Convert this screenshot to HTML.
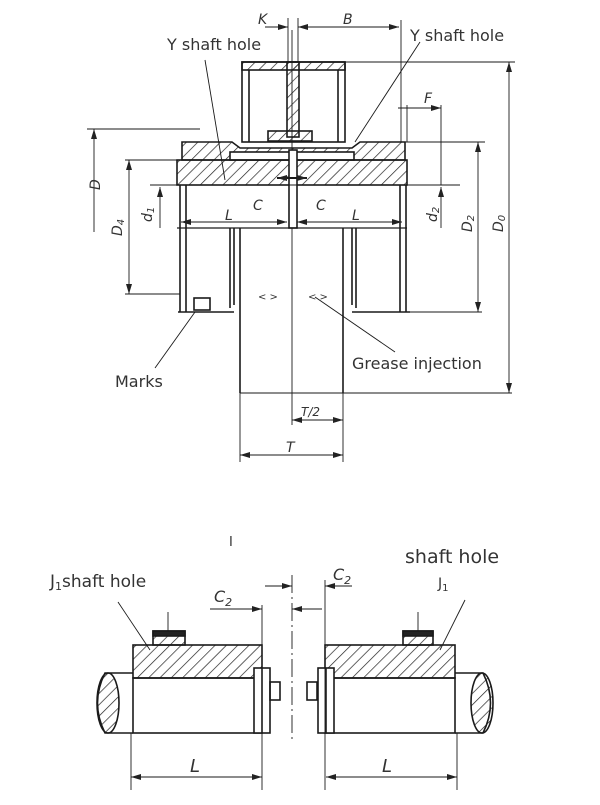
<!DOCTYPE html>
<html><head><meta charset="utf-8"><style>
html,body{margin:0;padding:0;background:#fff;}
svg{display:block;}
text{font-family:"DejaVu Sans","Liberation Sans",sans-serif;fill:#333;}
.it{font-family:"Liberation Serif",serif;font-style:italic;fill:#222;}
</style></head><body>
<svg width="600" height="805" viewBox="0 0 600 805" xmlns="http://www.w3.org/2000/svg">
<defs>
<pattern id="h" patternUnits="userSpaceOnUse" width="8" height="8" patternTransform="rotate(45)">
<line x1="0" y1="0" x2="0" y2="8" stroke="#222" stroke-width="1.4"/></pattern>
<marker id="a" markerWidth="10" markerHeight="6" refX="10" refY="3" orient="auto-start-reverse" markerUnits="userSpaceOnUse"><path d="M0,0 L10,3 L0,6z" fill="#222"/></marker>
</defs>
<g stroke="#1a1a1a" stroke-width="1.6" fill="none">
<line x1="292" y1="30" x2="292" y2="400" stroke-width="0.9"/>
<rect x="242" y="62" width="103" height="80"/>
<rect x="242" y="62" width="103" height="8" fill="url(#h)"/>
<line x1="249" y1="70" x2="249" y2="142"/><line x1="338" y1="70" x2="338" y2="142"/>
<rect x="287" y="62" width="12" height="75" fill="url(#h)"/>
<rect x="268" y="131" width="44" height="10" fill="url(#h)"/>
<path d="M182,142 L232,142 L240,148 L352,148 L360,142 L405,142 L405,160 L182,160Z" fill="url(#h)"/>
<rect x="230" y="152" width="124" height="8" fill="#fff"/>
<rect x="177" y="160" width="230" height="25" fill="url(#h)"/>
<rect x="289" y="150" width="8" height="78" fill="#fff"/>
<line x1="277" y1="178" x2="307" y2="178" marker-start="url(#a)" marker-end="url(#a)" stroke-width="2"/>
<line x1="150" y1="185" x2="460" y2="185" stroke-width="0.9"/>
<line x1="177" y1="228" x2="407" y2="228" stroke-width="1.2"/>
<line x1="180" y1="185" x2="180" y2="312"/><line x1="186" y1="185" x2="186" y2="312"/>
<line x1="230" y1="228" x2="230" y2="308"/><line x1="234" y1="228" x2="234" y2="305"/>
<line x1="352" y1="228" x2="352" y2="305"/><line x1="356" y1="228" x2="356" y2="308"/>
<line x1="400" y1="185" x2="400" y2="312"/><line x1="406" y1="185" x2="406" y2="312"/>
<line x1="178" y1="312" x2="234" y2="312"/><line x1="352" y1="312" x2="410" y2="312"/>
<rect x="194" y="298" width="16" height="12"/>
<line x1="240" y1="228" x2="240" y2="393"/><line x1="343" y1="228" x2="343" y2="393"/>
<line x1="240" y1="393" x2="512" y2="393" stroke-width="1"/>
<g stroke-width="0.9">
<line x1="87" y1="129" x2="200" y2="129"/>
<line x1="94" y1="129" x2="94" y2="232" marker-start="url(#a)"/>
<line x1="125" y1="160" x2="180" y2="160"/>
<line x1="125" y1="294" x2="180" y2="294"/>
<line x1="129" y1="160" x2="129" y2="294" marker-start="url(#a)" marker-end="url(#a)"/>
<line x1="160" y1="187" x2="160" y2="228" marker-start="url(#a)"/>
<line x1="181" y1="222" x2="287" y2="222" marker-start="url(#a)" marker-end="url(#a)"/>
<line x1="297" y1="222" x2="402" y2="222" marker-start="url(#a)" marker-end="url(#a)"/>
<line x1="265" y1="27" x2="288" y2="27" marker-end="url(#a)"/>
<line x1="298" y1="27" x2="399" y2="27" marker-start="url(#a)" marker-end="url(#a)"/>
<line x1="288" y1="18" x2="288" y2="62"/><line x1="298" y1="18" x2="298" y2="62"/>
<line x1="401" y1="20" x2="401" y2="142"/>
<line x1="345" y1="62" x2="515" y2="62"/>
<line x1="509" y1="62" x2="509" y2="393" marker-start="url(#a)" marker-end="url(#a)"/>
<line x1="405" y1="142" x2="485" y2="142"/>
<line x1="478" y1="142" x2="478" y2="312" marker-start="url(#a)" marker-end="url(#a)"/>
<line x1="406" y1="312" x2="482" y2="312"/>
<line x1="407" y1="105" x2="407" y2="142"/><line x1="441" y1="105" x2="441" y2="185"/>
<line x1="398" y1="108" x2="441" y2="108" marker-end="url(#a)"/>
<line x1="441" y1="187" x2="441" y2="228" marker-start="url(#a)"/>
<line x1="292" y1="400" x2="292" y2="425"/><line x1="343" y1="393" x2="343" y2="462"/>
<line x1="240" y1="393" x2="240" y2="462"/>
<line x1="292" y1="420" x2="343" y2="420" marker-start="url(#a)" marker-end="url(#a)"/>
<line x1="240" y1="455" x2="343" y2="455" marker-start="url(#a)" marker-end="url(#a)"/>
<line x1="205" y1="60" x2="225" y2="180"/>
<line x1="420" y1="42" x2="355" y2="142"/>
<line x1="195" y1="312" x2="155" y2="368"/>
<line x1="315" y1="297" x2="395" y2="352"/>
</g>
<line x1="292" y1="575" x2="292" y2="740" stroke-width="0.9" stroke-dasharray="18,4,2,4"/>
<rect x="133" y="645" width="129" height="33" fill="url(#h)"/>
<rect x="153" y="631" width="32" height="14" fill="url(#h)"/><rect x="153" y="631" width="32" height="5" fill="#222"/>
<rect x="133" y="678" width="129" height="55"/>
<rect x="254" y="668" width="16" height="65" fill="#fff"/><line x1="262" y1="668" x2="262" y2="733"/>
<rect x="270" y="682" width="10" height="18"/>
<path d="M133,673 L105,673 Q90,703 105,733 L133,733"/>
<ellipse cx="108" cy="703" rx="11" ry="30" fill="url(#h)"/>
<rect x="325" y="645" width="130" height="33" fill="url(#h)"/>
<rect x="403" y="631" width="30" height="14" fill="url(#h)"/><rect x="403" y="631" width="30" height="5" fill="#222"/>
<rect x="325" y="678" width="130" height="55"/>
<rect x="318" y="668" width="16" height="65" fill="#fff"/><line x1="326" y1="668" x2="326" y2="733"/>
<rect x="307" y="682" width="10" height="18"/>
<path d="M455,673 L483,673 Q498,703 483,733 L455,733"/>
<ellipse cx="482" cy="703" rx="11" ry="30" fill="url(#h)"/>
<g stroke-width="0.9">
<line x1="262" y1="605" x2="262" y2="790"/><line x1="325" y1="580" x2="325" y2="790"/>
<line x1="131" y1="733" x2="131" y2="790"/><line x1="457" y1="733" x2="457" y2="790"/>
<line x1="131" y1="777" x2="262" y2="777" marker-start="url(#a)" marker-end="url(#a)"/>
<line x1="326" y1="777" x2="457" y2="777" marker-start="url(#a)" marker-end="url(#a)"/>
<line x1="265" y1="586" x2="292" y2="586" marker-end="url(#a)"/>
<line x1="325" y1="586" x2="352" y2="586" marker-start="url(#a)"/>
<line x1="210" y1="609" x2="262" y2="609" marker-end="url(#a)"/>
<line x1="292" y1="609" x2="322" y2="609" marker-start="url(#a)"/>
<line x1="168" y1="612" x2="168" y2="631"/><line x1="418" y1="612" x2="418" y2="631"/>
<line x1="118" y1="602" x2="150" y2="650"/><line x1="465" y1="600" x2="440" y2="650"/>
</g>
</g>
<g font-size="16">
<text x="167" y="50">Y  shaft hole</text>
<text x="410" y="41">Y shaft hole</text>
<text x="115" y="387">Marks</text>
<text x="352" y="369">Grease injection</text>
<text x="50" y="587" font-size="17">J<tspan font-size="11" dy="3">1</tspan><tspan dy="-3">shaft hole</tspan></text>
<text x="405" y="563" font-size="19">shaft hole</text>
<text x="438" y="588" font-size="14">J<tspan font-size="10" dy="3">1</tspan></text>
<text x="229" y="546" font-size="13">I</text>
</g>
<g class="it" font-size="14">
<text x="258" y="24">K</text><text x="343" y="24">B</text><text x="424" y="103">F</text>
<text x="253" y="210">C</text><text x="316" y="210">C</text>
<text x="225" y="220">L</text><text x="352" y="220">L</text>
<text x="301" y="416" font-size="12">T/2</text><text x="286" y="452">T</text>
<text x="214" y="602" font-size="16">C<tspan font-size="11" dy="4">2</tspan></text>
<text x="333" y="580" font-size="16">C<tspan font-size="11" dy="4">2</tspan></text>
<text x="190" y="772" font-size="18">L</text><text x="382" y="772" font-size="18">L</text>
<text transform="translate(100,190) rotate(-90)">D</text>
<text transform="translate(122,236) rotate(-90)">D<tspan font-size="10" dy="2">4</tspan></text>
<text transform="translate(152,222) rotate(-90)">d<tspan font-size="10" dy="2">1</tspan></text>
<text transform="translate(437,222) rotate(-90)">d<tspan font-size="10" dy="2">2</tspan></text>
<text transform="translate(472,232) rotate(-90)">D<tspan font-size="10" dy="2">2</tspan></text>
<text transform="translate(503,232) rotate(-90)">D<tspan font-size="10" dy="2">0</tspan></text>
</g>
<g font-size="10" fill="#555"><text x="258" y="300">&lt; &gt;</text><text x="308" y="300">&lt; &gt;</text></g>
</svg>
</body></html>
